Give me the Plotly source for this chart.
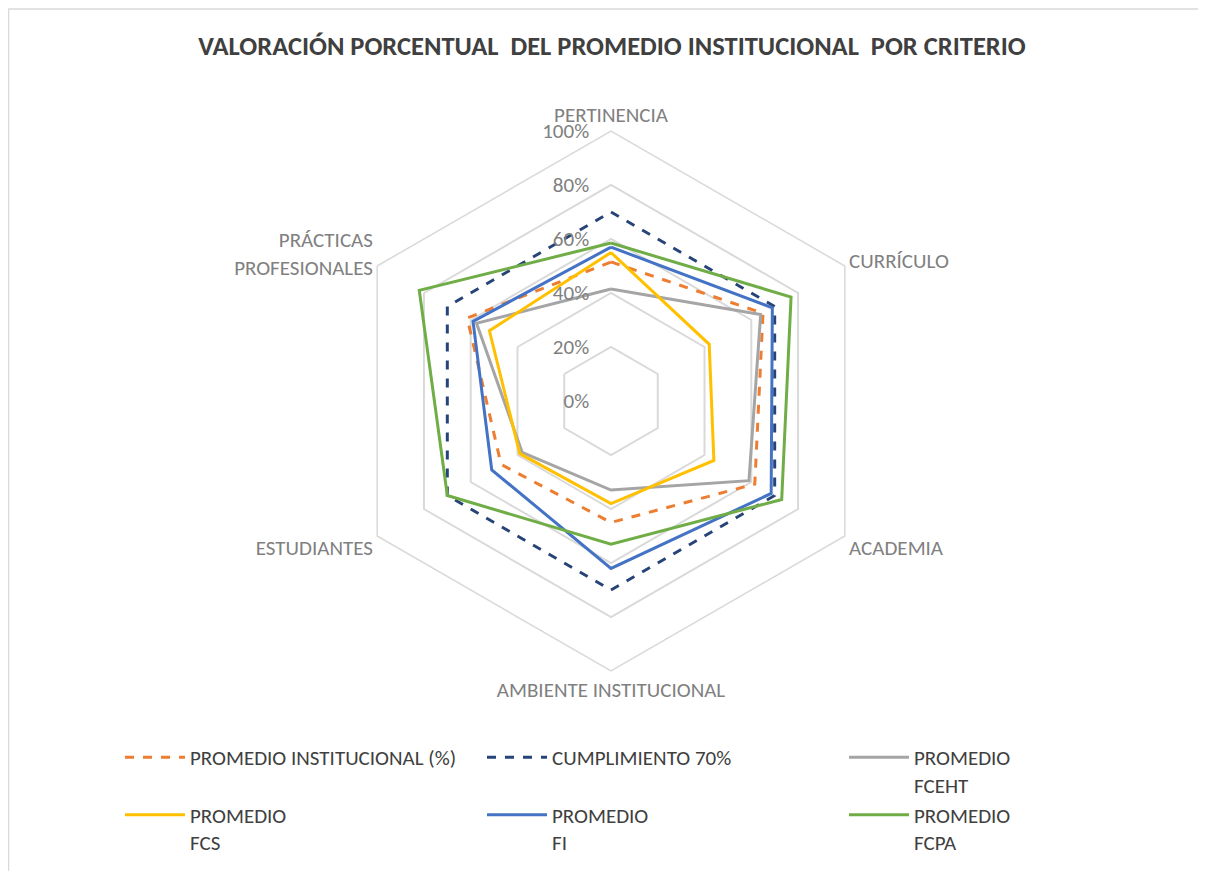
import plotly.graph_objects as go

categories = ["PERTINENCIA", "CURRÍCULO", "ACADEMIA", "AMBIENTE INSTITUCIONAL",
              "ESTUDIANTES", "PRÁCTICAS<br>PROFESIONALES"]
promedio_institucional = [51.5, 65, 61.5, 45, 47, 61.5]
cumplimiento_70 = [70, 70, 70, 70, 70, 70]
promedio_fceht = [41.5, 64, 59, 33, 38, 57.5]
promedio_fcs = [55, 42, 44, 38, 39, 52]
promedio_fi = [57, 69, 68.5, 62, 51, 59]
promedio_fcpa = [58.5, 77, 73, 53, 70, 82]
radial_ticks = [0, 20, 40, 60, 80, 100]
radial_labels = ["0%", "20%", "40%", "60%", "80%", "100%"]

series = [
    ("PROMEDIO INSTITUCIONAL (%)", promedio_institucional, "#ED7D31", "dash"),
    ("CUMPLIMIENTO 70%", cumplimiento_70, "#264478", "dash"),
    ("PROMEDIO<br>FCEHT", promedio_fceht, "#A5A5A5", "solid"),
    ("PROMEDIO<br>FCS", promedio_fcs, "#FFC000", "solid"),
    ("PROMEDIO<br>FI", promedio_fi, "#4472C4", "solid"),
    ("PROMEDIO<br>FCPA", promedio_fcpa, "#70AD47", "solid"),
]

FONT = "Carlito, Calibri, 'Liberation Sans Narrow', 'Open Sans', sans-serif"

fig = go.Figure()
for name, vals, color, dash in series:
    fig.add_trace(go.Scatterpolar(
        r=vals + vals[:1],
        theta=categories + categories[:1],
        mode="lines",
        name=name,
        line=dict(color=color, width=3, dash=dash),
    ))

# page has an 8px body margin; figure coordinates are page - 8
W, H = 1198, 863
cx, cy, R = 603, 393, 270
fig.update_layout(
    width=W, height=H,
    margin=dict(l=0, r=0, t=0, b=0),
    paper_bgcolor="white",
    font=dict(family=FONT, color="#808080", size=21),
    title=dict(text="<b>VALORACIÓN PORCENTUAL  DEL PROMEDIO INSTITUCIONAL  POR CRITERIO</b>",
               x=604 / W, xanchor="center", y=1 - 38 / H, yanchor="middle",
               font=dict(family=FONT, size=26.5, color="#404040")),
    polar=dict(
        domain=dict(x=[(cx - R) / W, (cx + R) / W], y=[(H - cy - R) / H, (H - cy + R) / H]),
        bgcolor="white",
        gridshape="linear",
        angularaxis=dict(rotation=90, direction="clockwise", showgrid=False,
                         linecolor="#D9D9D9", linewidth=1.5, ticks="",
                         tickfont=dict(size=21, color="#808080")),
        radialaxis=dict(range=[0, 100], tickvals=radial_ticks, ticktext=radial_labels,
                        angle=90, side="counterclockwise", showline=False,
                        ticks="outside", ticklen=14, tickcolor="rgba(0,0,0,0)",
                        tickangle=90,
                        gridcolor="#D9D9D9", gridwidth=1.5,
                        tickfont=dict(size=21, color="#808080")),
    ),
    legend=dict(orientation="h", x=112 / W, xanchor="left", y=1 - 729 / H, yanchor="top",
                entrywidth=287, entrywidthmode="pixels", valign="top",
                font=dict(size=21, color="#404040"), itemwidth=60),
    shapes=[dict(type="rect", xref="paper", yref="paper", x0=0.5 / W, x1=1.01,
                 y0=-0.01, y1=1 - 1 / H, line=dict(color="#D9D9D9", width=1.5))],
)

fig.write_html("out.html")
